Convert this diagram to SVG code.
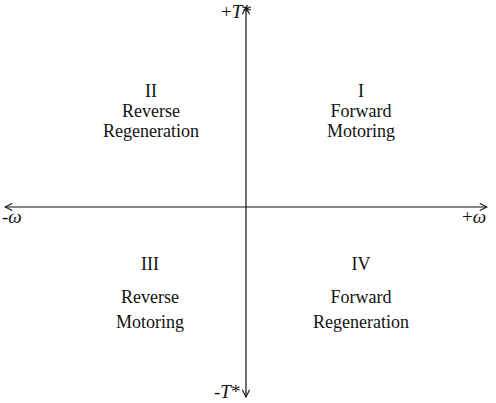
<svg xmlns="http://www.w3.org/2000/svg" width="496" height="403" viewBox="0 0 496 403">
<style>
.q{font-family:"Liberation Serif","Times New Roman",serif;font-size:18px;fill:#111;text-anchor:middle}
.ax{stroke:#111;stroke-width:1.2;fill:none}
.lb{font-family:"Liberation Serif","Times New Roman",serif;font-size:19px;fill:#111}
</style>
<defs>
<marker id="ah" viewBox="0 0 10 10" refX="9" refY="5" markerWidth="9" markerHeight="9" markerUnits="userSpaceOnUse" orient="auto-start-reverse">
<path d="M1,1 L9,5 L1,9" fill="none" stroke="#111" stroke-width="1.2"/>
</marker>
</defs>
<rect width="496" height="403" fill="#fff"/>
<g id="connectors">
<line class="ax" x1="246" y1="397" x2="246" y2="7" marker-end="url(#ah)" marker-start="url(#ah)"/>
<line class="ax" x1="5" y1="207" x2="487" y2="207" marker-end="url(#ah)" marker-start="url(#ah)"/>
</g>
<g id="axis-labels">
<text class="lb" x="221" y="18">+<tspan font-style="italic">T</tspan>*</text>
<text class="lb" x="214" y="398" font-size="21">-<tspan font-style="italic">T</tspan>*</text>
<text class="lb" x="2" y="223">-<tspan font-style="italic">ω</tspan></text>
<text class="lb" x="462" y="223">+<tspan font-style="italic">ω</tspan></text>
</g>
<g id="q1"><text class="q" x="361" y="97">I</text><text class="q" x="361" y="117">Forward</text><text class="q" x="361" y="137">Motoring</text></g>
<g id="q2"><text class="q" x="151" y="97">II</text><text class="q" x="151" y="117">Reverse</text><text class="q" x="151" y="137">Regeneration</text></g>
<g id="q3"><text class="q" x="150" y="270">III</text><text class="q" x="150" y="303">Reverse</text><text class="q" x="150" y="328">Motoring</text></g>
<g id="q4"><text class="q" x="361" y="270">IV</text><text class="q" x="361" y="303">Forward</text><text class="q" x="361" y="328">Regeneration</text></g>
</svg>
